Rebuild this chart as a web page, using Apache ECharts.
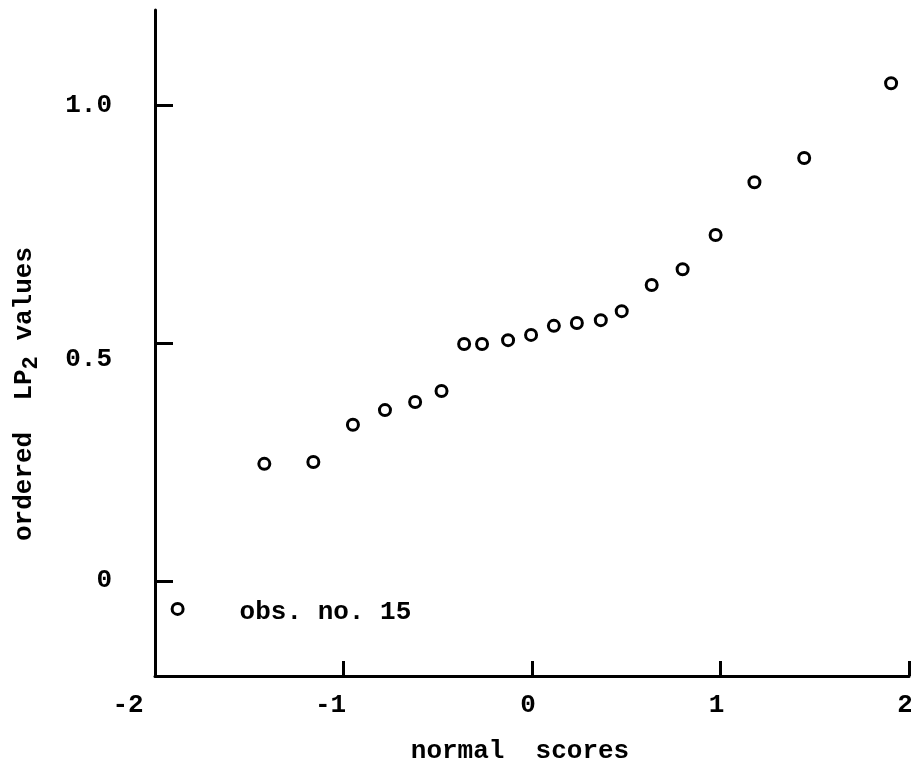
<!DOCTYPE html>
<html>
<head>
<meta charset="utf-8">
<script src="https://cdn.jsdelivr.net/npm/echarts@6/dist/echarts.min.js"></script>
<style>
html,body{margin:0;padding:0;background:#fff;}
#chart{width:911px;height:770px;}
</style>
</head>
<body>
<div id="chart"></div>
<script>
// normal scores (x) and ordered LP2 values (y)
const normalScores = [-1.88, -1.42, -1.16, -0.95, -0.78, -0.62, -0.48, -0.36, -0.265, -0.127, -0.005, 0.116, 0.238, 0.365, 0.476, 0.635, 0.799, 0.974, 1.18, 1.444, 1.905];
const lp2Values   = [-0.059, 0.246, 0.250, 0.328, 0.359, 0.376, 0.399, 0.498, 0.498, 0.506, 0.517, 0.536, 0.542, 0.548, 0.567, 0.622, 0.655, 0.727, 0.838, 0.889, 1.046];
const yTickValues = [0, 0.5, 1.0];
const yTickLabels = ['0', '0.5', '1.0'];
const xTickLabels = ['-2', '-1', '0', '1', '2'];
const annotIndex = 0;
const annotText = 'obs. no. 15';
const xName = 'normal  scores';
const yNameMain = 'ordered  LP';
const yNameSub = '2';
const yNameTail = ' values';

const FONT = '"Liberation Mono", "DejaVu Sans Mono", monospace';
const FW = 'bold';

const data = normalScores.map((x, i) => {
  if (i === annotIndex) {
    return {
      value: [x, lp2Values[i]],
      label: {
        show: true, formatter: annotText, position: 'right', distance: 55, offset: [0, 4],
        fontFamily: FONT, fontWeight: FW, fontSize: 26, color: '#000'
      }
    };
  }
  return [x, lp2Values[i]];
});

const chart = echarts.init(document.getElementById('chart'));
chart.setOption({
  animation: false,
  backgroundColor: '#fff',
  grid: { left: 155, right: 2, top: 10, bottom: 94, containLabel: false, outerBoundsMode: 'none' },
  xAxis: {
    type: 'value', min: -2, max: 2, interval: 1,
    name: xName, nameLocation: 'middle', nameGap: 62,
    nameTextStyle: { fontFamily: FONT, fontWeight: FW, fontSize: 26, color: '#000', padding: [0, 24, 0, 0] },
    axisLine: { show: true, onZero: false, lineStyle: { color: '#000', width: 3 } },
    axisTick: { show: true, inside: true, length: 15, lineStyle: { color: '#000', width: 3 } },
    splitLine: { show: false },
    axisLabel: {
      margin: 16, color: '#000', fontFamily: FONT, fontWeight: FW, fontSize: 26,
      formatter: v => {
        const i = Math.round(v + 2);
        const t = xTickLabels[i];
        if (v === -2) return '{n2|' + t + '}';
        if (v < 0) return '{n1|' + t + '}';
        return '{p|' + t + '}';
      },
      rich: {
        n2: { fontFamily: FONT, fontWeight: FW, fontSize: 26, color: '#000', padding: [0, 54, 0, 0] },
        n1: { fontFamily: FONT, fontWeight: FW, fontSize: 26, color: '#000', padding: [0, 26, 0, 0] },
        p: { fontFamily: FONT, fontWeight: FW, fontSize: 26, color: '#000', padding: [0, 8, 0, 0] }
      }
    }
  },
  yAxis: {
    type: 'value', min: -0.2, max: 1.2,
    name: '{m|' + yNameMain + '}{s|' + yNameSub + '}{m|' + yNameTail + '}',
    nameLocation: 'middle', nameGap: 113, nameRotate: 90,
    nameTextStyle: {
      fontFamily: FONT, fontWeight: FW, fontSize: 26, color: '#000', padding: [0, 102, 0, 0],
      rich: {
        m: { fontFamily: FONT, fontWeight: FW, fontSize: 26, color: '#000' },
        s: { fontFamily: FONT, fontWeight: FW, fontSize: 22, color: '#000', padding: [14, 0, 0, 0] }
      }
    },
    axisLine: { show: true, onZero: false, lineStyle: { color: '#000', width: 3 } },
    axisTick: { show: true, inside: true, length: 18, customValues: yTickValues, lineStyle: { color: '#000', width: 3 } },
    splitLine: { show: false },
    axisLabel: {
      margin: 43, color: '#000', fontFamily: FONT, fontWeight: FW, fontSize: 26,
      customValues: yTickValues,
      formatter: v => {
        const i = yTickValues.findIndex(t => Math.abs(t - v) < 1e-9);
        const t = yTickLabels[i];
        return i === 1 ? '{lo|' + t + '}' : t;
      },
      rich: {
        lo: { fontFamily: FONT, fontWeight: FW, fontSize: 26, color: '#000', padding: [32, 0, 0, 0] }
      }
    }
  },
  series: [{
    type: 'scatter',
    data: data,
    symbol: 'circle',
    symbolSize: 11,
    itemStyle: { color: '#fff', borderColor: '#000', borderWidth: 3, opacity: 1 },
    emphasis: { disabled: true }
  }]
});
</script>
</body>
</html>
